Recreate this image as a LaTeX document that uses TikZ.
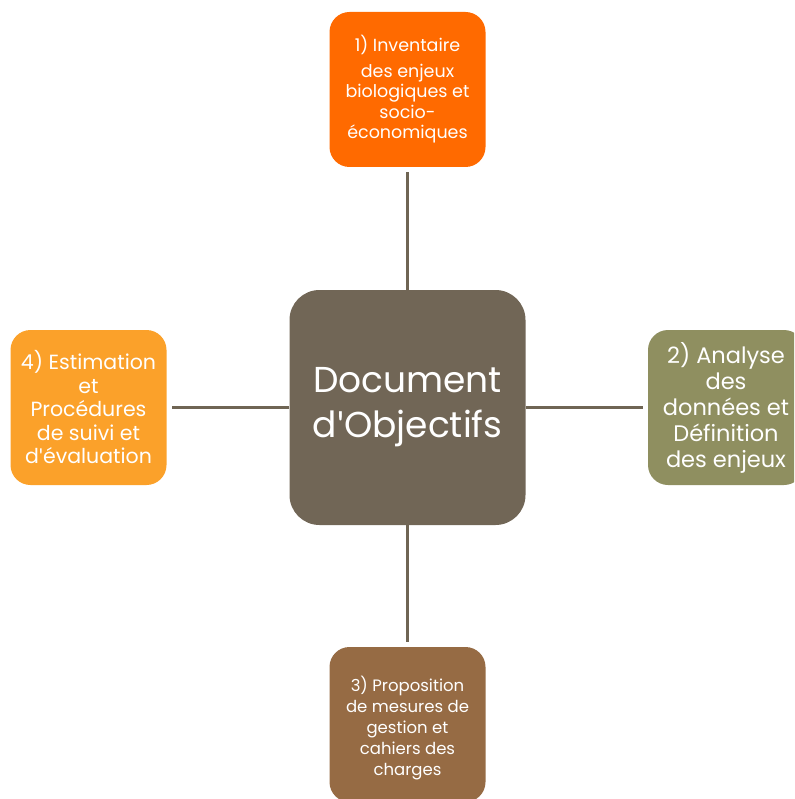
\documentclass[tikz,border=0pt]{standalone}
\usepackage{fontspec}
\setmainfont{Poppins}
\newfontfamily\latofont{Lato}
\definecolor{docfond}{HTML}{716656}
\definecolor{lienfond}{HTML}{6F6554}
\definecolor{invfond}{HTML}{FF6A00}
\definecolor{anafond}{HTML}{8F8F60}
\definecolor{propfond}{HTML}{966B44}
\definecolor{estifond}{HTML}{FBA12A}
\newcommand{\apos}{{\latofont\char"27}}
\begin{document}
\begin{tikzpicture}[x=1pt,y=-1pt,
    boite/.style={rounded corners=20pt,minimum width=156pt,minimum height=155pt,
      inner sep=0pt,text=white,align=center},
    lien/.style={draw=lienfond,line width=3pt,shorten >=5pt}]
  \useasboundingbox (0,0) rectangle (794,799);
  \clip (0,0) rectangle (794,799);
  % centre
  \node[boite,fill=docfond,rounded corners=30pt,minimum width=236pt,minimum height=235pt,
    font=\fontsize{36}{45}\selectfont] (doc) at (407.5,407.5) {Document\\d\apos Objectifs};
  % les quatre etapes
  \node[boite,fill=invfond,font=\fontsize{17.5}{20.5}\selectfont] (inv) at (407.5,89.5)
    {1) Inventaire\\[5pt]des enjeux\\biologiques et\\socio-\\économiques};
  \node[boite,fill=anafond,font=\fontsize{22.5}{26}\selectfont] (ana) at (726,407.5)
    {2) Analyse\\des\\données et\\Définition\\des enjeux};
  \node[boite,fill=propfond,font=\fontsize{16.5}{21}\selectfont] (prop) at (407.5,724.5)
    {\raisebox{-4pt}[\height][\depth]{\begin{tabular}{@{}c@{}}3) Proposition\\de mesures de\\gestion et\\cahiers des\\charges\end{tabular}}};
  \node[boite,fill=estifond,font=\fontsize{20.5}{23.5}\selectfont] (esti) at (88.5,407.5)
    {4) Estimation\\et\\Procédures\\de suivi et\\d\apos évaluation};
  % liens
  \draw[lien] (doc.north) -- (inv.south);
  \draw[lien] (doc.east) -- (ana.west);
  \draw[lien] (doc.south) -- (prop.north);
  \draw[lien] (doc.west) -- (esti.east);
\end{tikzpicture}
\end{document}
